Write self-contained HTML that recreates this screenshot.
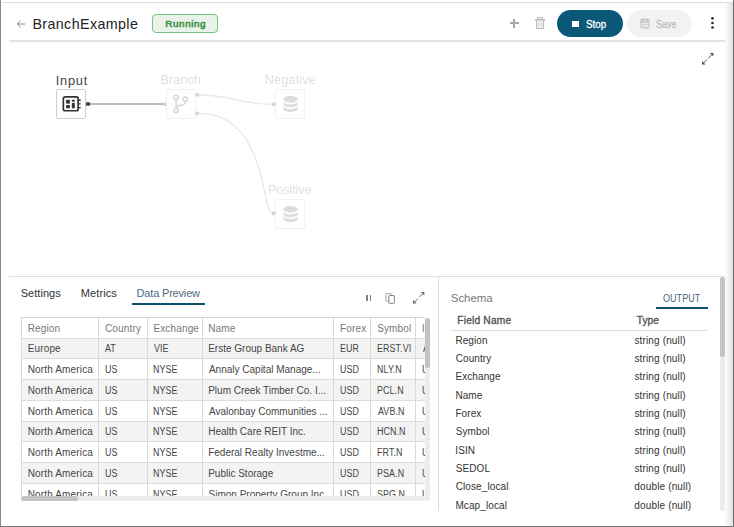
<!DOCTYPE html>
<html><head><meta charset="utf-8">
<style>
*{margin:0;padding:0;box-sizing:border-box}
html,body{width:734px;height:527px;overflow:hidden;background:#fff}
body{position:relative;font-family:"Liberation Sans",sans-serif;color:#333}
.a{position:absolute}
.t{position:absolute;white-space:nowrap;line-height:1}
svg{position:absolute;overflow:visible}
</style></head><body>
<div class="a" style="left:0px;top:0px;width:1px;height:527px;background:#8a8a8a"></div>
<div class="a" style="left:724px;top:3px;width:9px;height:523px;background:linear-gradient(to right,rgba(0,0,0,0),rgba(0,0,0,.11))"></div>
<div class="a" style="left:2px;top:2px;width:731px;height:1px;background:#dcdddf"></div>
<div class="a" style="left:733px;top:0px;width:1px;height:527px;background:#6a6a6a"></div>
<div class="a" style="left:0px;top:526px;width:734px;height:1px;background:#787878"></div>
<svg style="left:15px;top:18.5px" width="12" height="10" viewBox="0 0 12 10"><path d="M10 5H2.4M5.6 1.6L2.2 5l3.4 3.4" fill="none" stroke="#8a8a8a" stroke-width="1"/></svg>
<div class="t" style="left:32.40px;top:16.66px;font-size:14.30px;letter-spacing:0.38px;color:#222;">BranchExample</div>
<div class="a" style="left:152px;top:14px;width:66px;height:19px;border:1.5px solid #7cc27f;border-radius:4px;background:#e9f3e9"></div>
<div class="t" style="left:165.31px;top:18.92px;font-size:9.90px;letter-spacing:0.58px;color:#3a9244;-webkit-text-stroke:0.55px #3a9244;">Running</div>
<div class="a" style="left:9px;top:40px;width:716px;height:1.5px;background:#e4e4e4"></div>
<div class="a" style="left:509.5px;top:22px;width:9.5px;height:2px;background:#a6a6a6"></div>
<div class="a" style="left:513.2px;top:18.5px;width:2px;height:9.2px;background:#a6a6a6"></div>
<svg style="left:533.7px;top:16px" width="12" height="14" viewBox="0 0 12 14">
<path d="M3.9 2.9V1.5h4.4v1.4" fill="none" stroke="#bbb" stroke-width="1.1"/>
<path d="M1.1 3.8h10" stroke="#b8b8b8" stroke-width="1.7"/>
<path d="M2.6 4.6v7.9h7V4.6" fill="none" stroke="#bdbdbd" stroke-width="1.1"/>
<path d="M4.3 5.5v6.2M6.1 5.5v6.2M7.9 5.5v6.2" stroke="#cdcdcd" stroke-width=".85"/>
</svg>
<div class="a" style="left:557px;top:10px;width:66px;height:27px;border-radius:13.5px;background:#0b5879"></div>
<div class="a" style="left:572.4px;top:20.5px;width:7px;height:6.6px;background:#fff"></div>
<div class="t" style="left:585.71px;top:19.64px;font-size:10.40px;letter-spacing:0.00px;color:#fff;-webkit-text-stroke:0.3px #fff;transform:scaleX(0.942);transform-origin:0.47px 0;">Stop</div>
<div class="a" style="left:627px;top:10px;width:65px;height:27px;border-radius:13.5px;background:#f2f2f2"></div>
<svg style="left:640px;top:19px" width="11" height="10" viewBox="0 0 11 10">
<rect x=".85" y=".35" width="8.1" height="8.6" rx="1" fill="none" stroke="#c2c2c2" stroke-width="1.1"/>
<rect x="1.3" y=".8" width="7.2" height="3.2" fill="#c8c8c8"/>
<rect x="3.2" y="1.4" width="3" height="1" fill="#ececec"/>
<rect x="3.2" y="5.3" width="3.6" height="3" fill="none" stroke="#cacaca" stroke-width=".9"/>
</svg>
<div class="t" style="left:655.89px;top:19.64px;font-size:10.40px;letter-spacing:0.00px;color:#bdbdbd;-webkit-text-stroke:0.3px #bdbdbd;transform:scaleX(0.862);transform-origin:0.47px 0;">Save</div>
<svg style="left:700px;top:10px" width="30" height="30" viewBox="0 0 30 30"><circle cx="12.5" cy="8.3" r="1.35" fill="#2a2a2a"/><circle cx="12.5" cy="13" r="1.35" fill="#2a2a2a"/><circle cx="12.5" cy="17.5" r="1.35" fill="#2a2a2a"/></svg>
<svg style="left:700px;top:51px" width="16" height="16" viewBox="0 0 16 16">
<path d="M3.5 12L6.9 8.6M8.3 7.2L11.7 3.8" stroke="#555" stroke-width="1"/>
<path d="M2 13.6V10L5.6 13.6z" fill="#555"/>
<path d="M13.4 2V5.6L9.8 2z" fill="#555"/>
</svg>
<svg style="left:0;top:0" width="734" height="270" viewBox="0 0 734 270">
<line x1="90" y1="104" x2="163" y2="104" stroke="#bcbcbc" stroke-width="2"/>
<rect x="86" y="102.3" width="4" height="3.4" fill="#444"/>
<g opacity="0.22">
<rect x="163" y="102.5" width="3.5" height="3.4" fill="#444"/>
<rect x="195.6" y="93.2" width="3.4" height="3.4" fill="#444"/>
<rect x="195.6" y="111.7" width="3.4" height="3.4" fill="#444"/>
<rect x="272" y="102.6" width="3.5" height="3.4" fill="#444"/>
<rect x="272" y="211.7" width="3.5" height="3.4" fill="#444"/>
<path d="M199 95 C236 95 236 104.3 272 104.3" fill="none" stroke="#999" stroke-width="1.3"/>
<path d="M199 113.4 C267 113.4 262 213.4 272 213.4" fill="none" stroke="#999" stroke-width="1.3"/>
</g>
</svg>
<div class="t" style="left:55.70px;top:74.50px;font-size:12.80px;letter-spacing:0.76px;color:#444;">Input</div>
<div class="a" style="left:56px;top:89px;width:30px;height:30px;border:1px solid #cfcfcf;border-radius:2px;background:#fff"></div>
<svg style="left:61px;top:94px" width="22" height="20" viewBox="0 0 22 20">
<rect x="2.35" y="2.85" width="14.8" height="13.9" rx="1.8" fill="none" stroke="#333" stroke-width="1.7"/>
<rect x="5.1" y="5.8" width="3.8" height="3.8" fill="#333"/>
<rect x="10.8" y="5.8" width="3" height="1.9" fill="#333"/>
<rect x="10.8" y="8.9" width="3" height="5.4" fill="#333"/>
<rect x="5.1" y="11" width="3.8" height="3.3" fill="#333"/>
<path d="M17.5 6.25h2.2M17.5 9.8h2.2M17.5 13.6h2.2" stroke="#333" stroke-width="1.3"/>
</svg>
<div style="opacity:0.2">
<div class="t" style="left:160.45px;top:74.18px;font-size:12.60px;letter-spacing:0.10px;color:#5e5e5e;">Branch</div>
<div class="a" style="left:166px;top:89px;width:30px;height:30px;border:1px solid #bbb;border-radius:2px"></div>
<svg style="left:166px;top:89px" width="30" height="30" viewBox="0 0 30 30">
<circle cx="10.1" cy="8.5" r="2.2" fill="none" stroke="#333" stroke-width="1.45"/>
<circle cx="19.4" cy="10.2" r="2.2" fill="none" stroke="#333" stroke-width="1.45"/>
<circle cx="10.1" cy="21.5" r="2.2" fill="none" stroke="#333" stroke-width="1.45"/>
<path d="M10.1 10.7V19.3M19.4 12.4C19.4 15.2 17.5 16 14.6 16.2C11.9 16.4 10.1 17 10.1 19" fill="none" stroke="#333" stroke-width="1.45"/>
</svg>
<div class="t" style="left:264.76px;top:74.23px;font-size:12.60px;letter-spacing:0.20px;color:#5e5e5e;">Negative</div>
<div class="a" style="left:275px;top:89px;width:30px;height:30px;border:1px solid #bbb;border-radius:2px"></div>
<svg style="left:283px;top:96px" width="15" height="17" viewBox="0 0 15 17"><path d="M.3 3.3c0-1.8 3.2-3.2 7.2-3.2s7.2 1.4 7.2 3.2-3.2 3.2-7.2 3.2S.3 5.1.3 3.3z" fill="#555"/>
<path d="M.3 5.8v2.2c0 1.8 3.2 3.3 7.2 3.3s7.2-1.5 7.2-3.3V5.8c-1 1.7-3.8 2.8-7.2 2.8s-6.2-1.1-7.2-2.8z" fill="#555"/>
<path d="M.3 10.3v2.4c0 1.8 3.2 3.3 7.2 3.3s7.2-1.5 7.2-3.3v-2.4c-1 1.7-3.8 2.8-7.2 2.8s-6.2-1.1-7.2-2.8z" fill="#555"/></svg>
<div class="t" style="left:267.99px;top:183.88px;font-size:12.60px;letter-spacing:-0.05px;color:#5e5e5e;">Positive</div>
<div class="a" style="left:275px;top:198.5px;width:30px;height:30px;border:1px solid #bbb;border-radius:2px"></div>
<svg style="left:283px;top:205.5px" width="15" height="17" viewBox="0 0 15 17"><path d="M.3 3.3c0-1.8 3.2-3.2 7.2-3.2s7.2 1.4 7.2 3.2-3.2 3.2-7.2 3.2S.3 5.1.3 3.3z" fill="#555"/>
<path d="M.3 5.8v2.2c0 1.8 3.2 3.3 7.2 3.3s7.2-1.5 7.2-3.3V5.8c-1 1.7-3.8 2.8-7.2 2.8s-6.2-1.1-7.2-2.8z" fill="#555"/>
<path d="M.3 10.3v2.4c0 1.8 3.2 3.3 7.2 3.3s7.2-1.5 7.2-3.3v-2.4c-1 1.7-3.8 2.8-7.2 2.8s-6.2-1.1-7.2-2.8z" fill="#555"/></svg>
</div>
<div class="a" style="left:9px;top:276px;width:716px;height:1.2px;background:#dedede"></div>
<div class="a" style="left:438px;top:277px;width:1px;height:234px;background:#dadada"></div>
<div class="t" style="left:20.65px;top:287.54px;font-size:11.00px;letter-spacing:0.05px;color:#333;">Settings</div>
<div class="t" style="left:80.74px;top:287.54px;font-size:11.00px;letter-spacing:0.11px;color:#333;">Metrics</div>
<div class="t" style="left:136.58px;top:287.64px;font-size:11.00px;letter-spacing:-0.18px;color:#4f6a80;">Data Preview</div>
<div class="a" style="left:132px;top:303.2px;width:73px;height:2px;background:#0f5072"></div>
<div class="a" style="left:366.2px;top:295px;width:1.5px;height:5.7px;background:#808080"></div>
<div class="a" style="left:369.5px;top:295px;width:1.5px;height:5.7px;background:#808080"></div>
<svg style="left:385px;top:292.5px" width="11" height="11" viewBox="0 0 11 11">
<path d="M6.4 2.4V1.2Q6.4 .6 5.8 .6H1.4Q.8 .6 .8 1.2V7.4Q.8 8 1.4 8H3.6" fill="none" stroke="#999" stroke-width=".9"/>
<rect x="3.8" y="2.5" width="5.6" height="7.8" rx=".5" fill="#fff" stroke="#808080" stroke-width=".95"/>
</svg>
<svg style="left:410.8px;top:289.6px" width="16" height="16" viewBox="0 0 16 16">
<path d="M3.5 12L6.9 8.6M8.3 7.2L11.7 3.8" stroke="#666" stroke-width="1"/>
<path d="M2 13.6V10L5.6 13.6z" fill="#666"/>
<path d="M13.4 2V5.6L9.8 2z" fill="#666"/>
</svg>
<div class="a" style="left:21px;top:317px;width:404px;height:178.6px;overflow:hidden">
<div class="a" style="left:0px;top:0px;width:420px;height:21px;background:#fff"></div>
<div class="a" style="left:0px;top:21.00px;width:420px;height:20.75px;background:#f3f3f3"></div>
<div class="a" style="left:0px;top:41.75px;width:420px;height:20.75px;background:#fff"></div>
<div class="a" style="left:0px;top:62.50px;width:420px;height:20.75px;background:#f3f3f3"></div>
<div class="a" style="left:0px;top:83.25px;width:420px;height:20.75px;background:#fff"></div>
<div class="a" style="left:0px;top:104.00px;width:420px;height:20.75px;background:#f3f3f3"></div>
<div class="a" style="left:0px;top:124.75px;width:420px;height:20.75px;background:#fff"></div>
<div class="a" style="left:0px;top:145.50px;width:420px;height:20.75px;background:#f3f3f3"></div>
<div class="a" style="left:0px;top:166.25px;width:420px;height:20.75px;background:#fff"></div>
<div class="a" style="left:0px;top:0px;width:420px;height:1px;background:#d4d4d4"></div>
<div class="a" style="left:0px;top:20.50px;width:420px;height:1px;background:#dcdcdc"></div>
<div class="a" style="left:0px;top:41.25px;width:420px;height:1px;background:#dcdcdc"></div>
<div class="a" style="left:0px;top:62.00px;width:420px;height:1px;background:#dcdcdc"></div>
<div class="a" style="left:0px;top:82.75px;width:420px;height:1px;background:#dcdcdc"></div>
<div class="a" style="left:0px;top:103.50px;width:420px;height:1px;background:#dcdcdc"></div>
<div class="a" style="left:0px;top:124.25px;width:420px;height:1px;background:#dcdcdc"></div>
<div class="a" style="left:0px;top:145.00px;width:420px;height:1px;background:#dcdcdc"></div>
<div class="a" style="left:0px;top:165.75px;width:420px;height:1px;background:#dcdcdc"></div>
<div class="a" style="left:0px;top:186.50px;width:420px;height:1px;background:#dcdcdc"></div>
<div class="a" style="left:0.00px;top:0px;width:1px;height:200px;background:#dadada"></div>
<div class="a" style="left:77.00px;top:0px;width:1px;height:200px;background:#dadada"></div>
<div class="a" style="left:125.70px;top:0px;width:1px;height:200px;background:#dadada"></div>
<div class="a" style="left:180.50px;top:0px;width:1px;height:200px;background:#dadada"></div>
<div class="a" style="left:312.30px;top:0px;width:1px;height:200px;background:#dadada"></div>
<div class="a" style="left:349.10px;top:0px;width:1px;height:200px;background:#dadada"></div>
<div class="a" style="left:394.30px;top:0px;width:1px;height:200px;background:#dadada"></div>
<div class="t" style="left:6.70px;top:7.10px;font-size:10.00px;letter-spacing:0.15px;color:#777;">Region</div>
<div class="t" style="left:84.00px;top:7.10px;font-size:10.00px;letter-spacing:0.15px;color:#777;">Country</div>
<div class="t" style="left:132.40px;top:7.10px;font-size:10.00px;letter-spacing:0.15px;color:#777;">Exchange</div>
<div class="t" style="left:187.20px;top:7.10px;font-size:10.00px;letter-spacing:0.15px;color:#777;">Name</div>
<div class="t" style="left:319.00px;top:7.10px;font-size:10.00px;letter-spacing:0.15px;color:#777;">Forex</div>
<div class="t" style="left:356.15px;top:7.10px;font-size:10.00px;letter-spacing:0.15px;color:#777;">Symbol</div>
<div class="t" style="left:400.90px;top:7.10px;font-size:10.00px;letter-spacing:0.15px;color:#777;">I</div>
<div class="t" style="left:6.70px;top:27.40px;font-size:10.00px;letter-spacing:0.15px;color:#454545;">Europe</div>
<div class="t" style="left:84.45px;top:27.40px;font-size:10.00px;letter-spacing:0.10px;color:#454545;transform:scaleX(0.89);transform-origin:0 0;">AT</div>
<div class="t" style="left:133.15px;top:27.40px;font-size:10.00px;letter-spacing:0.10px;color:#454545;transform:scaleX(0.89);transform-origin:0 0;">VIE</div>
<div class="t" style="left:187.20px;top:27.40px;font-size:10.00px;letter-spacing:0.00px;color:#454545;">Erste Group Bank AG</div>
<div class="t" style="left:319.00px;top:27.40px;font-size:10.00px;letter-spacing:0.10px;color:#454545;transform:scaleX(0.89);transform-origin:0 0;">EUR</div>
<div class="t" style="left:355.80px;top:27.40px;font-size:10.00px;letter-spacing:0.10px;color:#454545;transform:scaleX(0.89);transform-origin:0 0;">ERST.VI</div>
<div class="t" style="left:401.75px;top:27.40px;font-size:10.00px;letter-spacing:0.10px;color:#454545;transform:scaleX(0.89);transform-origin:0 0;">AT</div>
<div class="t" style="left:6.70px;top:48.15px;font-size:10.00px;letter-spacing:0.15px;color:#454545;">North America</div>
<div class="t" style="left:83.75px;top:48.15px;font-size:10.00px;letter-spacing:0.10px;color:#454545;transform:scaleX(0.89);transform-origin:0 0;">US</div>
<div class="t" style="left:132.40px;top:48.15px;font-size:10.00px;letter-spacing:0.10px;color:#454545;transform:scaleX(0.89);transform-origin:0 0;">NYSE</div>
<div class="t" style="left:187.95px;top:48.15px;font-size:10.00px;letter-spacing:0.00px;color:#454545;">Annaly Capital Manage...</div>
<div class="t" style="left:319.05px;top:48.15px;font-size:10.00px;letter-spacing:0.10px;color:#454545;transform:scaleX(0.89);transform-origin:0 0;">USD</div>
<div class="t" style="left:355.80px;top:48.15px;font-size:10.00px;letter-spacing:0.10px;color:#454545;transform:scaleX(0.89);transform-origin:0 0;">NLY.N</div>
<div class="t" style="left:401.05px;top:48.15px;font-size:10.00px;letter-spacing:0.10px;color:#454545;transform:scaleX(0.89);transform-origin:0 0;">US</div>
<div class="t" style="left:6.70px;top:68.90px;font-size:10.00px;letter-spacing:0.15px;color:#454545;">North America</div>
<div class="t" style="left:83.75px;top:68.90px;font-size:10.00px;letter-spacing:0.10px;color:#454545;transform:scaleX(0.89);transform-origin:0 0;">US</div>
<div class="t" style="left:132.40px;top:68.90px;font-size:10.00px;letter-spacing:0.10px;color:#454545;transform:scaleX(0.89);transform-origin:0 0;">NYSE</div>
<div class="t" style="left:187.20px;top:68.90px;font-size:10.00px;letter-spacing:0.00px;color:#454545;">Plum Creek Timber Co. I...</div>
<div class="t" style="left:319.05px;top:68.90px;font-size:10.00px;letter-spacing:0.10px;color:#454545;transform:scaleX(0.89);transform-origin:0 0;">USD</div>
<div class="t" style="left:355.80px;top:68.90px;font-size:10.00px;letter-spacing:0.10px;color:#454545;transform:scaleX(0.89);transform-origin:0 0;">PCL.N</div>
<div class="t" style="left:401.05px;top:68.90px;font-size:10.00px;letter-spacing:0.10px;color:#454545;transform:scaleX(0.89);transform-origin:0 0;">US</div>
<div class="t" style="left:6.70px;top:89.65px;font-size:10.00px;letter-spacing:0.15px;color:#454545;">North America</div>
<div class="t" style="left:83.75px;top:89.65px;font-size:10.00px;letter-spacing:0.10px;color:#454545;transform:scaleX(0.89);transform-origin:0 0;">US</div>
<div class="t" style="left:132.40px;top:89.65px;font-size:10.00px;letter-spacing:0.10px;color:#454545;transform:scaleX(0.89);transform-origin:0 0;">NYSE</div>
<div class="t" style="left:187.95px;top:89.65px;font-size:10.00px;letter-spacing:0.00px;color:#454545;">Avalonbay Communities ...</div>
<div class="t" style="left:319.05px;top:89.65px;font-size:10.00px;letter-spacing:0.10px;color:#454545;transform:scaleX(0.89);transform-origin:0 0;">USD</div>
<div class="t" style="left:356.55px;top:89.65px;font-size:10.00px;letter-spacing:0.10px;color:#454545;transform:scaleX(0.89);transform-origin:0 0;">AVB.N</div>
<div class="t" style="left:401.05px;top:89.65px;font-size:10.00px;letter-spacing:0.10px;color:#454545;transform:scaleX(0.89);transform-origin:0 0;">US</div>
<div class="t" style="left:6.70px;top:110.40px;font-size:10.00px;letter-spacing:0.15px;color:#454545;">North America</div>
<div class="t" style="left:83.75px;top:110.40px;font-size:10.00px;letter-spacing:0.10px;color:#454545;transform:scaleX(0.89);transform-origin:0 0;">US</div>
<div class="t" style="left:132.40px;top:110.40px;font-size:10.00px;letter-spacing:0.10px;color:#454545;transform:scaleX(0.89);transform-origin:0 0;">NYSE</div>
<div class="t" style="left:187.20px;top:110.40px;font-size:10.00px;letter-spacing:0.00px;color:#454545;">Health Care REIT Inc.</div>
<div class="t" style="left:319.05px;top:110.40px;font-size:10.00px;letter-spacing:0.10px;color:#454545;transform:scaleX(0.89);transform-origin:0 0;">USD</div>
<div class="t" style="left:355.80px;top:110.40px;font-size:10.00px;letter-spacing:0.10px;color:#454545;transform:scaleX(0.89);transform-origin:0 0;">HCN.N</div>
<div class="t" style="left:401.05px;top:110.40px;font-size:10.00px;letter-spacing:0.10px;color:#454545;transform:scaleX(0.89);transform-origin:0 0;">US</div>
<div class="t" style="left:6.70px;top:131.15px;font-size:10.00px;letter-spacing:0.15px;color:#454545;">North America</div>
<div class="t" style="left:83.75px;top:131.15px;font-size:10.00px;letter-spacing:0.10px;color:#454545;transform:scaleX(0.89);transform-origin:0 0;">US</div>
<div class="t" style="left:132.40px;top:131.15px;font-size:10.00px;letter-spacing:0.10px;color:#454545;transform:scaleX(0.89);transform-origin:0 0;">NYSE</div>
<div class="t" style="left:187.20px;top:131.15px;font-size:10.00px;letter-spacing:0.00px;color:#454545;">Federal Realty Investme...</div>
<div class="t" style="left:319.05px;top:131.15px;font-size:10.00px;letter-spacing:0.10px;color:#454545;transform:scaleX(0.89);transform-origin:0 0;">USD</div>
<div class="t" style="left:355.80px;top:131.15px;font-size:10.00px;letter-spacing:0.10px;color:#454545;transform:scaleX(0.89);transform-origin:0 0;">FRT.N</div>
<div class="t" style="left:401.05px;top:131.15px;font-size:10.00px;letter-spacing:0.10px;color:#454545;transform:scaleX(0.89);transform-origin:0 0;">US</div>
<div class="t" style="left:6.70px;top:151.90px;font-size:10.00px;letter-spacing:0.15px;color:#454545;">North America</div>
<div class="t" style="left:83.75px;top:151.90px;font-size:10.00px;letter-spacing:0.10px;color:#454545;transform:scaleX(0.89);transform-origin:0 0;">US</div>
<div class="t" style="left:132.40px;top:151.90px;font-size:10.00px;letter-spacing:0.10px;color:#454545;transform:scaleX(0.89);transform-origin:0 0;">NYSE</div>
<div class="t" style="left:187.20px;top:151.90px;font-size:10.00px;letter-spacing:0.00px;color:#454545;">Public Storage</div>
<div class="t" style="left:319.05px;top:151.90px;font-size:10.00px;letter-spacing:0.10px;color:#454545;transform:scaleX(0.89);transform-origin:0 0;">USD</div>
<div class="t" style="left:355.80px;top:151.90px;font-size:10.00px;letter-spacing:0.10px;color:#454545;transform:scaleX(0.89);transform-origin:0 0;">PSA.N</div>
<div class="t" style="left:401.05px;top:151.90px;font-size:10.00px;letter-spacing:0.10px;color:#454545;transform:scaleX(0.89);transform-origin:0 0;">US</div>
<div class="t" style="left:6.70px;top:172.65px;font-size:10.00px;letter-spacing:0.15px;color:#454545;">North America</div>
<div class="t" style="left:83.75px;top:172.65px;font-size:10.00px;letter-spacing:0.10px;color:#454545;transform:scaleX(0.89);transform-origin:0 0;">US</div>
<div class="t" style="left:132.40px;top:172.65px;font-size:10.00px;letter-spacing:0.10px;color:#454545;transform:scaleX(0.89);transform-origin:0 0;">NYSE</div>
<div class="t" style="left:187.55px;top:172.65px;font-size:10.00px;letter-spacing:0.00px;color:#454545;">Simon Property Group Inc.</div>
<div class="t" style="left:319.05px;top:172.65px;font-size:10.00px;letter-spacing:0.10px;color:#454545;transform:scaleX(0.89);transform-origin:0 0;">USD</div>
<div class="t" style="left:356.15px;top:172.65px;font-size:10.00px;letter-spacing:0.10px;color:#454545;transform:scaleX(0.89);transform-origin:0 0;">SPG.N</div>
<div class="t" style="left:401.05px;top:172.65px;font-size:10.00px;letter-spacing:0.10px;color:#454545;transform:scaleX(0.89);transform-origin:0 0;">US</div>
</div>
<div class="a" style="left:425px;top:317.5px;width:5px;height:183.5px;background:#ececec;border-radius:2.5px"></div>
<div class="a" style="left:425px;top:317.5px;width:5px;height:50.5px;background:#c3c3c3;border-radius:2.5px"></div>
<div class="a" style="left:21px;top:496.4px;width:404px;height:5px;background:#ececec;border-radius:2.5px"></div>
<div class="a" style="left:21px;top:496.4px;width:57px;height:5px;background:#c3c3c3;border-radius:2.5px"></div>
<div class="t" style="left:450.86px;top:293.46px;font-size:11.50px;letter-spacing:-0.09px;color:#777;">Schema</div>
<div class="t" style="left:663.47px;top:293.72px;font-size:10.20px;letter-spacing:0.00px;color:#4a6784;transform:scaleX(0.887);transform-origin:0.46px 0;">OUTPUT</div>
<div class="a" style="left:656px;top:306.8px;width:51.6px;height:1.9px;background:#0f5072"></div>
<div class="t" style="left:457.29px;top:315.52px;font-size:10.20px;letter-spacing:0.19px;color:#555;-webkit-text-stroke:0.35px #555;">Field Name</div>
<div class="t" style="left:636.75px;top:315.52px;font-size:10.20px;letter-spacing:0.00px;color:#555;-webkit-text-stroke:0.35px #555;">Type</div>
<div class="a" style="left:451px;top:330px;width:256.6px;height:1px;background:#dedede"></div>
<div class="t" style="left:455.40px;top:335.80px;font-size:10.00px;letter-spacing:0.10px;color:#333;">Region</div>
<div class="t" style="left:634.40px;top:335.80px;font-size:10.00px;letter-spacing:0.15px;color:#333;">string (null)</div>
<div class="t" style="left:455.70px;top:354.13px;font-size:10.00px;letter-spacing:0.10px;color:#333;">Country</div>
<div class="t" style="left:634.40px;top:354.13px;font-size:10.00px;letter-spacing:0.15px;color:#333;">string (null)</div>
<div class="t" style="left:455.40px;top:372.46px;font-size:10.00px;letter-spacing:0.10px;color:#333;">Exchange</div>
<div class="t" style="left:634.40px;top:372.46px;font-size:10.00px;letter-spacing:0.15px;color:#333;">string (null)</div>
<div class="t" style="left:455.40px;top:390.79px;font-size:10.00px;letter-spacing:0.10px;color:#333;">Name</div>
<div class="t" style="left:634.40px;top:390.79px;font-size:10.00px;letter-spacing:0.15px;color:#333;">string (null)</div>
<div class="t" style="left:455.40px;top:409.12px;font-size:10.00px;letter-spacing:0.10px;color:#333;">Forex</div>
<div class="t" style="left:634.40px;top:409.12px;font-size:10.00px;letter-spacing:0.15px;color:#333;">string (null)</div>
<div class="t" style="left:455.75px;top:427.45px;font-size:10.00px;letter-spacing:0.10px;color:#333;">Symbol</div>
<div class="t" style="left:634.40px;top:427.45px;font-size:10.00px;letter-spacing:0.15px;color:#333;">string (null)</div>
<div class="t" style="left:455.30px;top:445.78px;font-size:10.00px;letter-spacing:0.10px;color:#333;">ISIN</div>
<div class="t" style="left:634.40px;top:445.78px;font-size:10.00px;letter-spacing:0.15px;color:#333;">string (null)</div>
<div class="t" style="left:455.75px;top:464.11px;font-size:10.00px;letter-spacing:0.10px;color:#333;">SEDOL</div>
<div class="t" style="left:634.40px;top:464.11px;font-size:10.00px;letter-spacing:0.15px;color:#333;">string (null)</div>
<div class="t" style="left:455.70px;top:482.44px;font-size:10.00px;letter-spacing:0.10px;color:#333;">Close_local</div>
<div class="t" style="left:634.30px;top:482.44px;font-size:10.00px;letter-spacing:0.15px;color:#333;">double (null)</div>
<div class="t" style="left:455.40px;top:500.77px;font-size:10.00px;letter-spacing:0.10px;color:#333;">Mcap_local</div>
<div class="t" style="left:634.30px;top:500.77px;font-size:10.00px;letter-spacing:0.15px;color:#333;">double (null)</div>
<div class="a" style="left:720px;top:277px;width:5px;height:233.6px;background:#ececec;border-radius:2.5px"></div>
<div class="a" style="left:720px;top:277px;width:5px;height:79.6px;background:#c3c3c3;border-radius:2.5px"></div>
</body></html>
